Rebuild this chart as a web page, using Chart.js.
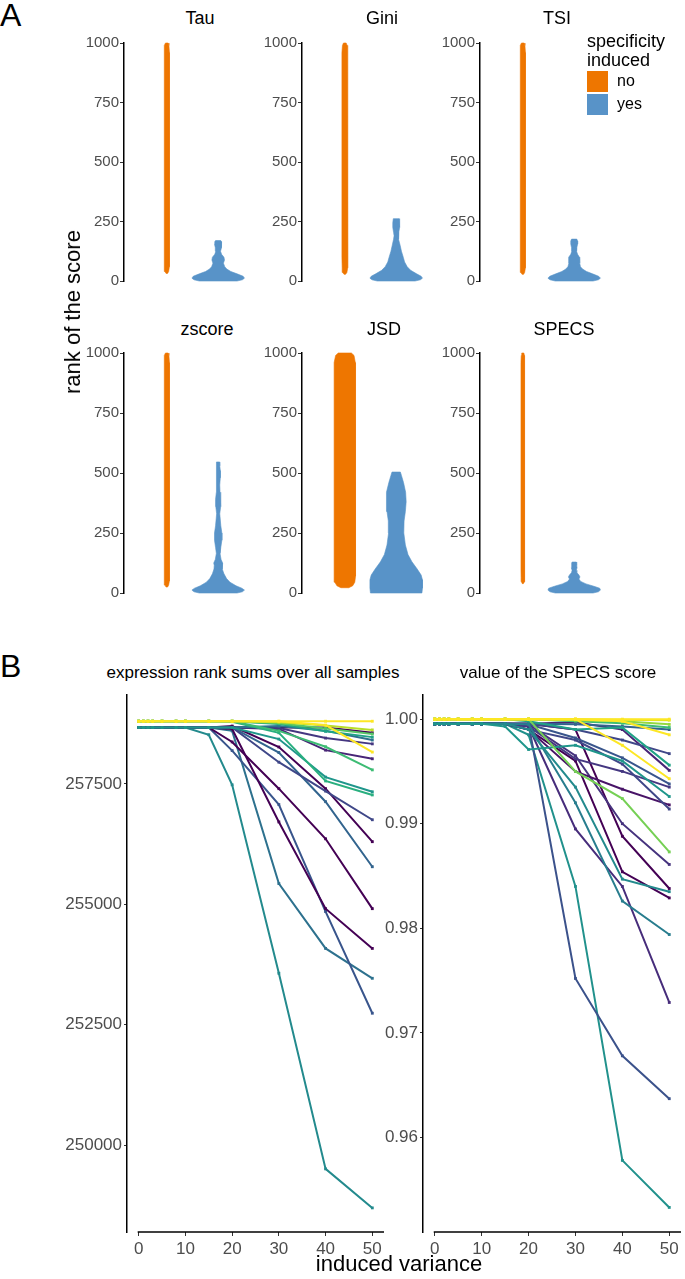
<!DOCTYPE html>
<html>
<head>
<meta charset="utf-8">
<script src="https://cdn.jsdelivr.net/npm/chart.js@4.4.1/dist/chart.umd.min.js"></script>
<style>
  body { margin: 0; background: #fff; font-family: "Liberation Sans", Arial, sans-serif; }
  #page { position: relative; width: 685px; height: 1279px; overflow: hidden; }
  canvas { position: absolute; }
  .txt { position: absolute; white-space: nowrap; line-height: 1; color: #000; }
</style>
</head>
<body>
<div id="page"></div>
<script>
// ---- panel A: rank of the score per method, violins ----
const METHODS = ['Tau', 'Gini', 'TSI', 'zscore', 'JSD', 'SPECS'];
const GROUPS = ['no', 'yes'];
const RANK_TICKS = [0, 250, 500, 750, 1000];

// violin outlines: rank levels + relative density (1 = widest "yes" violin)
const NO_RANK = [
  [32, 40, 60, 100, 300, 600, 900, 960, 990, 1000],
  [28, 36, 55, 100, 300, 600, 900, 960, 990, 1000],
  [28, 36, 55, 100, 300, 600, 900, 960, 990, 1000],
  [25, 33, 50, 100, 300, 600, 900, 960, 990, 1000],
  [22, 30, 45, 70, 120, 300, 600, 900, 960, 990, 1000],
  [39, 47, 65, 100, 300, 600, 900, 960, 990, 1000]
];
const NO_DENS = [
  [0.03, 0.07, 0.09, 0.10, 0.10, 0.10, 0.10, 0.10, 0.08, 0.05],
  [0.03, 0.08, 0.10, 0.11, 0.11, 0.11, 0.11, 0.11, 0.09, 0.05],
  [0.03, 0.07, 0.09, 0.10, 0.10, 0.10, 0.10, 0.10, 0.08, 0.05],
  [0.03, 0.07, 0.09, 0.10, 0.10, 0.10, 0.10, 0.10, 0.08, 0.05],
  [0.15, 0.30, 0.38, 0.40, 0.41, 0.41, 0.41, 0.41, 0.40, 0.35, 0.25],
  [0.02, 0.05, 0.065, 0.07, 0.07, 0.07, 0.07, 0.07, 0.06, 0.04]
];
const YES_RANK = [
  [0, 5, 12, 20, 30, 40, 50, 60, 75, 88, 100, 112, 125, 140, 155, 165, 170],
  [0, 5, 12, 20, 30, 45, 60, 80, 100, 125, 150, 175, 190, 205, 225, 245, 262],
  [0, 5, 12, 20, 30, 40, 50, 60, 75, 90, 100, 112, 125, 140, 155, 168, 176],
  [0, 5, 12, 20, 30, 45, 60, 80, 100, 115, 125, 140, 165, 190, 220, 250, 280, 330, 360, 390, 420, 450, 480, 510, 530, 546],
  [0, 20, 40, 55, 75, 100, 130, 160, 200, 250, 300, 340, 380, 420, 460, 490, 504],
  [0, 5, 12, 20, 28, 38, 48, 58, 67, 75, 85, 95, 105, 115, 125, 129]
];
const YES_DENS = [
  [0.72, 0.92, 1.0, 0.95, 0.72, 0.48, 0.33, 0.25, 0.20, 0.24, 0.22, 0.13, 0.09, 0.11, 0.14, 0.13, 0.10],
  [0.72, 0.92, 1.0, 0.95, 0.78, 0.55, 0.42, 0.32, 0.27, 0.20, 0.15, 0.10, 0.08, 0.10, 0.13, 0.13, 0.11],
  [0.72, 0.92, 1.0, 0.93, 0.70, 0.47, 0.32, 0.24, 0.20, 0.22, 0.20, 0.13, 0.09, 0.10, 0.13, 0.13, 0.10],
  [0.72, 0.92, 1.0, 0.90, 0.68, 0.45, 0.32, 0.22, 0.16, 0.15, 0.17, 0.11, 0.07, 0.10, 0.14, 0.14, 0.10, 0.06, 0.09, 0.10, 0.07, 0.06, 0.08, 0.08, 0.06, 0.05],
  [0.98, 1.0, 1.0, 1.0, 0.95, 0.80, 0.60, 0.45, 0.35, 0.29, 0.30, 0.35, 0.38, 0.36, 0.28, 0.20, 0.16],
  [0.72, 0.92, 1.0, 0.97, 0.75, 0.45, 0.25, 0.18, 0.22, 0.18, 0.10, 0.08, 0.11, 0.10, 0.09, 0.08]
];

// ---- panel B: scores vs induced variance ----
const VARIANCE = [0, 1, 2, 3, 5, 8, 10, 15, 20, 30, 40, 50];
const VARIANCE_TICKS = [0, 10, 20, 30, 40, 50];
const RANKSUM_TICKS = [250000, 252500, 255000, 257500];
const SPECS_TICKS = [0.96, 0.97, 0.98, 0.99, 1.00];

const RANKSUM_COLOURS = ['#fde725', '#fde725', '#bade28', '#56c667', '#20a386', '#3dbc74', '#29af7f', '#1f968b', '#2d718e', '#453781',
  '#482576', '#440154', '#3f4788', '#440154', '#32648e', '#440154', '#440154', '#39558c', '#2d718e', '#238a8d'];
const RANKSUMS = [
  [258800, 258800, 258800, 258800, 258800, 258800, 258800, 258800, 258800, 258800, 258800, 258800],
  [258800, 258800, 258800, 258800, 258800, 258800, 258800, 258800, 258800, 258800, 258720, 258160],
  [258800, 258800, 258800, 258800, 258800, 258800, 258800, 258800, 258800, 258780, 258710, 258620],
  [258800, 258800, 258800, 258800, 258800, 258800, 258800, 258800, 258800, 258760, 258650, 258535],
  [258800, 258800, 258800, 258800, 258800, 258800, 258800, 258800, 258800, 258740, 258590, 258470],
  [258800, 258800, 258800, 258800, 258800, 258800, 258800, 258800, 258800, 258600, 258270, 257790],
  [258800, 258800, 258800, 258800, 258800, 258800, 258800, 258800, 258790, 258560, 257560, 257270],
  [258670, 258670, 258670, 258670, 258670, 258670, 258670, 258670, 258670, 258430, 257640, 257335],
  [258670, 258670, 258670, 258670, 258670, 258670, 258670, 258670, 258670, 258700, 258600, 258410],
  [258670, 258670, 258670, 258670, 258670, 258670, 258670, 258670, 258670, 258660, 258450, 258330],
  [258670, 258670, 258670, 258670, 258670, 258670, 258670, 258670, 258670, 258640, 258200, 258020],
  [258670, 258670, 258670, 258670, 258670, 258670, 258670, 258670, 258670, 258670, 258670, 258560],
  [258670, 258670, 258670, 258670, 258670, 258670, 258670, 258670, 258670, 257950, 257350, 256755],
  [258670, 258670, 258670, 258670, 258670, 258670, 258670, 258670, 258700, 258265, 257400, 256300],
  [258670, 258670, 258670, 258670, 258670, 258670, 258670, 258670, 258670, 258150, 257130, 255780],
  [258670, 258670, 258670, 258670, 258670, 258670, 258670, 258670, 258370, 257400, 256360, 254910],
  [258670, 258670, 258670, 258670, 258670, 258670, 258670, 258670, 258640, 256710, 254910, 254085],
  [258670, 258670, 258670, 258670, 258670, 258670, 258670, 258670, 258190, 257070, 254850, 252740],
  [258670, 258670, 258670, 258670, 258670, 258670, 258670, 258670, 258600, 255430, 254085, 253465],
  [258670, 258670, 258670, 258670, 258670, 258670, 258670, 258520, 257480, 253570, 249510, 248700]
];

const SPECS_COLOURS = ['#fde725', '#fde725', '#fde725', '#dde318', '#95d840', '#75d054', '#3dbc74', '#20a386', '#1f968b', '#238a8d',
  '#287d8e', '#32648e', '#3f4788', '#39558c', '#3f4788', '#482576', '#453781', '#481467', '#46337e', '#440154',
  '#440154', '#472d7b', '#3b528b', '#21918c'];
const SPECS_VALUES = [
  [1.0000, 1.0000, 1.0000, 1.0000, 1.0000, 1.0000, 1.0000, 1.0000, 1.0000, 1.0000, 1.0000, 1.0000],
  [1.0000, 1.0000, 1.0000, 1.0000, 1.0000, 1.0000, 1.0000, 1.0000, 1.0000, 1.0000, 0.9998, 0.9985],
  [1.0000, 1.0000, 1.0000, 1.0000, 1.0000, 1.0000, 1.0000, 1.0000, 1.0000, 1.0000, 0.9975, 0.9943],
  [1.0000, 1.0000, 1.0000, 1.0000, 1.0000, 1.0000, 1.0000, 1.0000, 1.0000, 1.0000, 0.99995, 0.9999],
  [1.0000, 1.0000, 1.0000, 1.0000, 1.0000, 1.0000, 1.0000, 1.0000, 1.0000, 0.9999, 0.9998, 0.9995],
  [1.0000, 1.0000, 1.0000, 1.0000, 1.0000, 1.0000, 1.0000, 1.0000, 1.0000, 0.9950, 0.9924, 0.9873],
  [1.0000, 1.0000, 1.0000, 1.0000, 1.0000, 1.0000, 1.0000, 1.0000, 1.0000, 0.9998, 0.9996, 0.9992],
  [1.0000, 1.0000, 1.0000, 1.0000, 1.0000, 1.0000, 1.0000, 1.0000, 0.9998, 0.9990, 0.9992, 0.9956],
  [0.99955, 0.99955, 0.99955, 0.99955, 0.99955, 0.99955, 0.99955, 0.9993, 0.9971, 0.9975, 0.9960, 0.9926],
  [0.99955, 0.99955, 0.99955, 0.99955, 0.99955, 0.99955, 0.99955, 0.99955, 0.9990, 0.9935, 0.9847, 0.9835],
  [0.99955, 0.99955, 0.99955, 0.99955, 0.99955, 0.99955, 0.99955, 0.99955, 0.9995, 0.9920, 0.9826, 0.9794],
  [0.99955, 0.99955, 0.99955, 0.99955, 0.99955, 0.99955, 0.99955, 0.99955, 0.99955, 0.9995, 0.9993, 0.9990],
  [0.99955, 0.99955, 0.99955, 0.99955, 0.99955, 0.99955, 0.99955, 0.99955, 0.99955, 0.9990, 0.9980, 0.9967],
  [0.99955, 0.99955, 0.99955, 0.99955, 0.99955, 0.99955, 0.99955, 0.99955, 0.9995, 0.9982, 0.9963, 0.9938],
  [0.99955, 0.99955, 0.99955, 0.99955, 0.99955, 0.99955, 0.99955, 0.99955, 0.9990, 0.9980, 0.9957, 0.9914],
  [0.99955, 0.99955, 0.99955, 0.99955, 0.99955, 0.99955, 0.99955, 0.99955, 0.99955, 0.9997, 0.9990, 0.9951],
  [0.99955, 0.99955, 0.99955, 0.99955, 0.99955, 0.99955, 0.99955, 0.99955, 0.9993, 0.9962, 0.9950, 0.9935],
  [0.99955, 0.99955, 0.99955, 0.99955, 0.99955, 0.99955, 0.99955, 0.99955, 0.9990, 0.9950, 0.9933, 0.9918],
  [0.99955, 0.99955, 0.99955, 0.99955, 0.99955, 0.99955, 0.99955, 0.99955, 0.9995, 0.9965, 0.9900, 0.9861],
  [0.99955, 0.99955, 0.99955, 0.99955, 0.99955, 0.99955, 0.99955, 0.99955, 0.99955, 0.9990, 0.9888, 0.9838],
  [0.99955, 0.99955, 0.99955, 0.99955, 0.99955, 0.99955, 0.99955, 0.99955, 0.9990, 0.9960, 0.9854, 0.9829],
  [0.99955, 0.99955, 0.99955, 0.99955, 0.99955, 0.99955, 0.99955, 0.99955, 0.9993, 0.9895, 0.9840, 0.9729],
  [0.99955, 0.99955, 0.99955, 0.99955, 0.99955, 0.99955, 0.99955, 0.99955, 0.99955, 0.9752, 0.9678, 0.9637],
  [0.99955, 0.99955, 0.99955, 0.99955, 0.99955, 0.99955, 0.99955, 0.99955, 0.9985, 0.9840, 0.9578, 0.9533]
];

const ORANGE = '#ee7600';
const BLUE = '#5893c8';
const TICK_GREY = '#4d4d4d';
const FONT = '"Liberation Sans", Arial, sans-serif';

Chart.defaults.font.family = FONT;
Chart.defaults.animation = false;

const page = document.getElementById('page');

function makeCanvas(left, top, width, height) {
  const c = document.createElement('canvas');
  c.width = width;
  c.height = height;
  c.style.left = left + 'px';
  c.style.top = top + 'px';
  c.style.width = width + 'px';
  c.style.height = height + 'px';
  page.appendChild(c);
  return c;
}

// text placed by its baseline
function addText(str, x, baseline, size, align, extra) {
  const d = document.createElement('div');
  d.className = 'txt';
  d.textContent = str;
  d.style.fontSize = size + 'px';
  d.style.top = (baseline - 0.8465 * size) + 'px';
  d.style.left = x + 'px';
  if (align === 'center') d.style.transform = 'translateX(-50%)';
  if (extra) Object.assign(d.style, extra);
  page.appendChild(d);
  return d;
}

// closed polygon: left edge going up, right edge coming down
function outline(ranks, dens, centre) {
  const HALF = 0.23;
  const left = ranks.map((r, i) => ({ x: centre - dens[i] * HALF, y: r }));
  const right = ranks.map((r, i) => ({ x: centre + dens[i] * HALF, y: r })).reverse();
  return left.concat(right, [left[0]]);
}

function violinSet(points, colour) {
  return {
    data: points, showLine: true, fill: 'shape', tension: 0,
    borderColor: colour, backgroundColor: colour, borderWidth: 0.6,
    pointRadius: 0, clip: false
  };
}

function violinChart(i) {
  const col = i % 3, row = Math.floor(i / 3);
  const axisX = [124, 302, 480][col];
  const top = [43, 353][row];
  const h = [238, 240][row];
  const cv = makeCanvas(axisX - 50, top - 12, 50 + 137 + 4, h + 24);
  new Chart(cv, {
    type: 'scatter',
    data: {
      datasets: [
        violinSet(outline(NO_RANK[i], NO_DENS[i], 0.775), ORANGE),
        violinSet(outline(YES_RANK[i], YES_DENS[i], 1.225), BLUE)
      ]
    },
    options: {
      responsive: false,
      layout: { padding: { top: 12, bottom: 12, right: 4, left: 0 } },
      plugins: { legend: { display: false }, tooltip: { enabled: false } },
      scales: {
        x: { type: 'linear', min: 0.4, max: 1.6, display: false },
        y: {
          min: 0, max: 1000,
          afterBuildTicks: s => { s.ticks = RANK_TICKS.map(v => ({ value: v })); },
          afterFit: s => { s.width = 50; },
          ticks: { color: TICK_GREY, font: { size: 15 }, padding: 1, callback: v => String(v) },
          grid: { drawOnChartArea: false, drawTicks: true, tickLength: 4, color: '#333' },
          border: { display: true, color: '#000', width: 1.5 }
        }
      }
    }
  });
}

METHODS.forEach((m, i) => violinChart(i));

// capped x axis line, from the first break to the panel's right edge
const cappedXAxis = {
  id: 'cappedXAxis',
  afterDraw(chart) {
    const { ctx, chartArea, scales: { x } } = chart;
    ctx.save();
    ctx.strokeStyle = '#000';
    ctx.lineWidth = 1.5;
    ctx.beginPath();
    ctx.moveTo(x.getPixelForValue(VARIANCE_TICKS[0]) - 1, chartArea.bottom);
    ctx.lineTo(chartArea.right, chartArea.bottom);
    ctx.stroke();
    ctx.restore();
  }
};

function lineSets(rows, colours) {
  return rows.map((row, i) => ({
    data: row.map((v, j) => ({ x: VARIANCE[j], y: v })),
    showLine: true, tension: 0, clip: false,
    borderColor: colours[i], backgroundColor: colours[i], borderWidth: 2,
    pointRadius: 2, pointStyle: 'rect', pointBorderWidth: 0
  }));
}

function lineChart(cv, rows, colours, yMin, yMax, yTicks, fmt, yWidth) {
  new Chart(cv, {
    type: 'scatter',
    data: { datasets: lineSets(rows, colours) },
    plugins: [cappedXAxis],
    options: {
      responsive: false,
      layout: { padding: { top: 10, right: 0, bottom: 0, left: 0 } },
      plugins: { legend: { display: false }, tooltip: { enabled: false } },
      scales: {
        x: {
          type: 'linear', min: -2.5, max: 52.5,
          afterBuildTicks: s => { s.ticks = VARIANCE_TICKS.map(v => ({ value: v })); },
          afterFit: s => { s.height = 30; },
          ticks: { color: TICK_GREY, font: { size: 17 }, padding: 3, maxRotation: 0 },
          grid: { drawOnChartArea: false, drawTicks: true, tickLength: 4, color: '#333' },
          border: { display: false }
        },
        y: {
          min: yMin, max: yMax,
          afterBuildTicks: s => { s.ticks = yTicks.map(v => ({ value: v })); },
          afterFit: s => { s.width = yWidth; },
          ticks: { color: TICK_GREY, font: { size: 17 }, padding: 2, callback: fmt },
          grid: { drawOnChartArea: false, drawTicks: true, tickLength: 3, color: '#333' },
          border: { display: true, color: '#000', width: 1.5 }
        }
      }
    }
  });
}

lineChart(makeCanvas(40, 683, 348, 579), RANKSUMS, RANKSUM_COLOURS,
  248200, 259340, RANKSUM_TICKS, v => String(v), 87);
lineChart(makeCanvas(373, 683, 312, 579), SPECS_VALUES, SPECS_COLOURS,
  0.95095, 1.00229, SPECS_TICKS, v => v.toFixed(2), 50);

// ---- texts ----
addText('A', 0, 26, 32, 'left');
addText('B', 0, 677, 32, 'left');
const TITLE_X = [200, 382, 557, 207, 384, 564];
METHODS.forEach((m, i) => addText(m, TITLE_X[i], i < 3 ? 24 : 335, 18, 'center'));

addText('specificity', 587, 47, 18, 'left');
addText('induced', 587, 66, 18, 'left');
[ORANGE, BLUE].forEach((c, i) => {
  const k = document.createElement('div');
  k.style.cssText = 'position:absolute;left:587px;width:21px;height:21px;top:' + (71 + i * 23) + 'px;background:' + c;
  page.appendChild(k);
  addText(GROUPS[i], 617, 87 + i * 23, 16, 'left');
});

addText('rank of the score', 73, 312, 22, 'center',
  { transform: 'translate(-50%, 0) rotate(-90deg)', transformOrigin: '50% 50%', top: (312 - 11) + 'px' });

addText('expression rank sums over all samples', 253, 678, 17, 'center');
addText('value of the SPECS score', 558, 678, 17, 'center');
addText('induced variance', 399, 1272, 22, 'center');
</script>
</body>
</html>
